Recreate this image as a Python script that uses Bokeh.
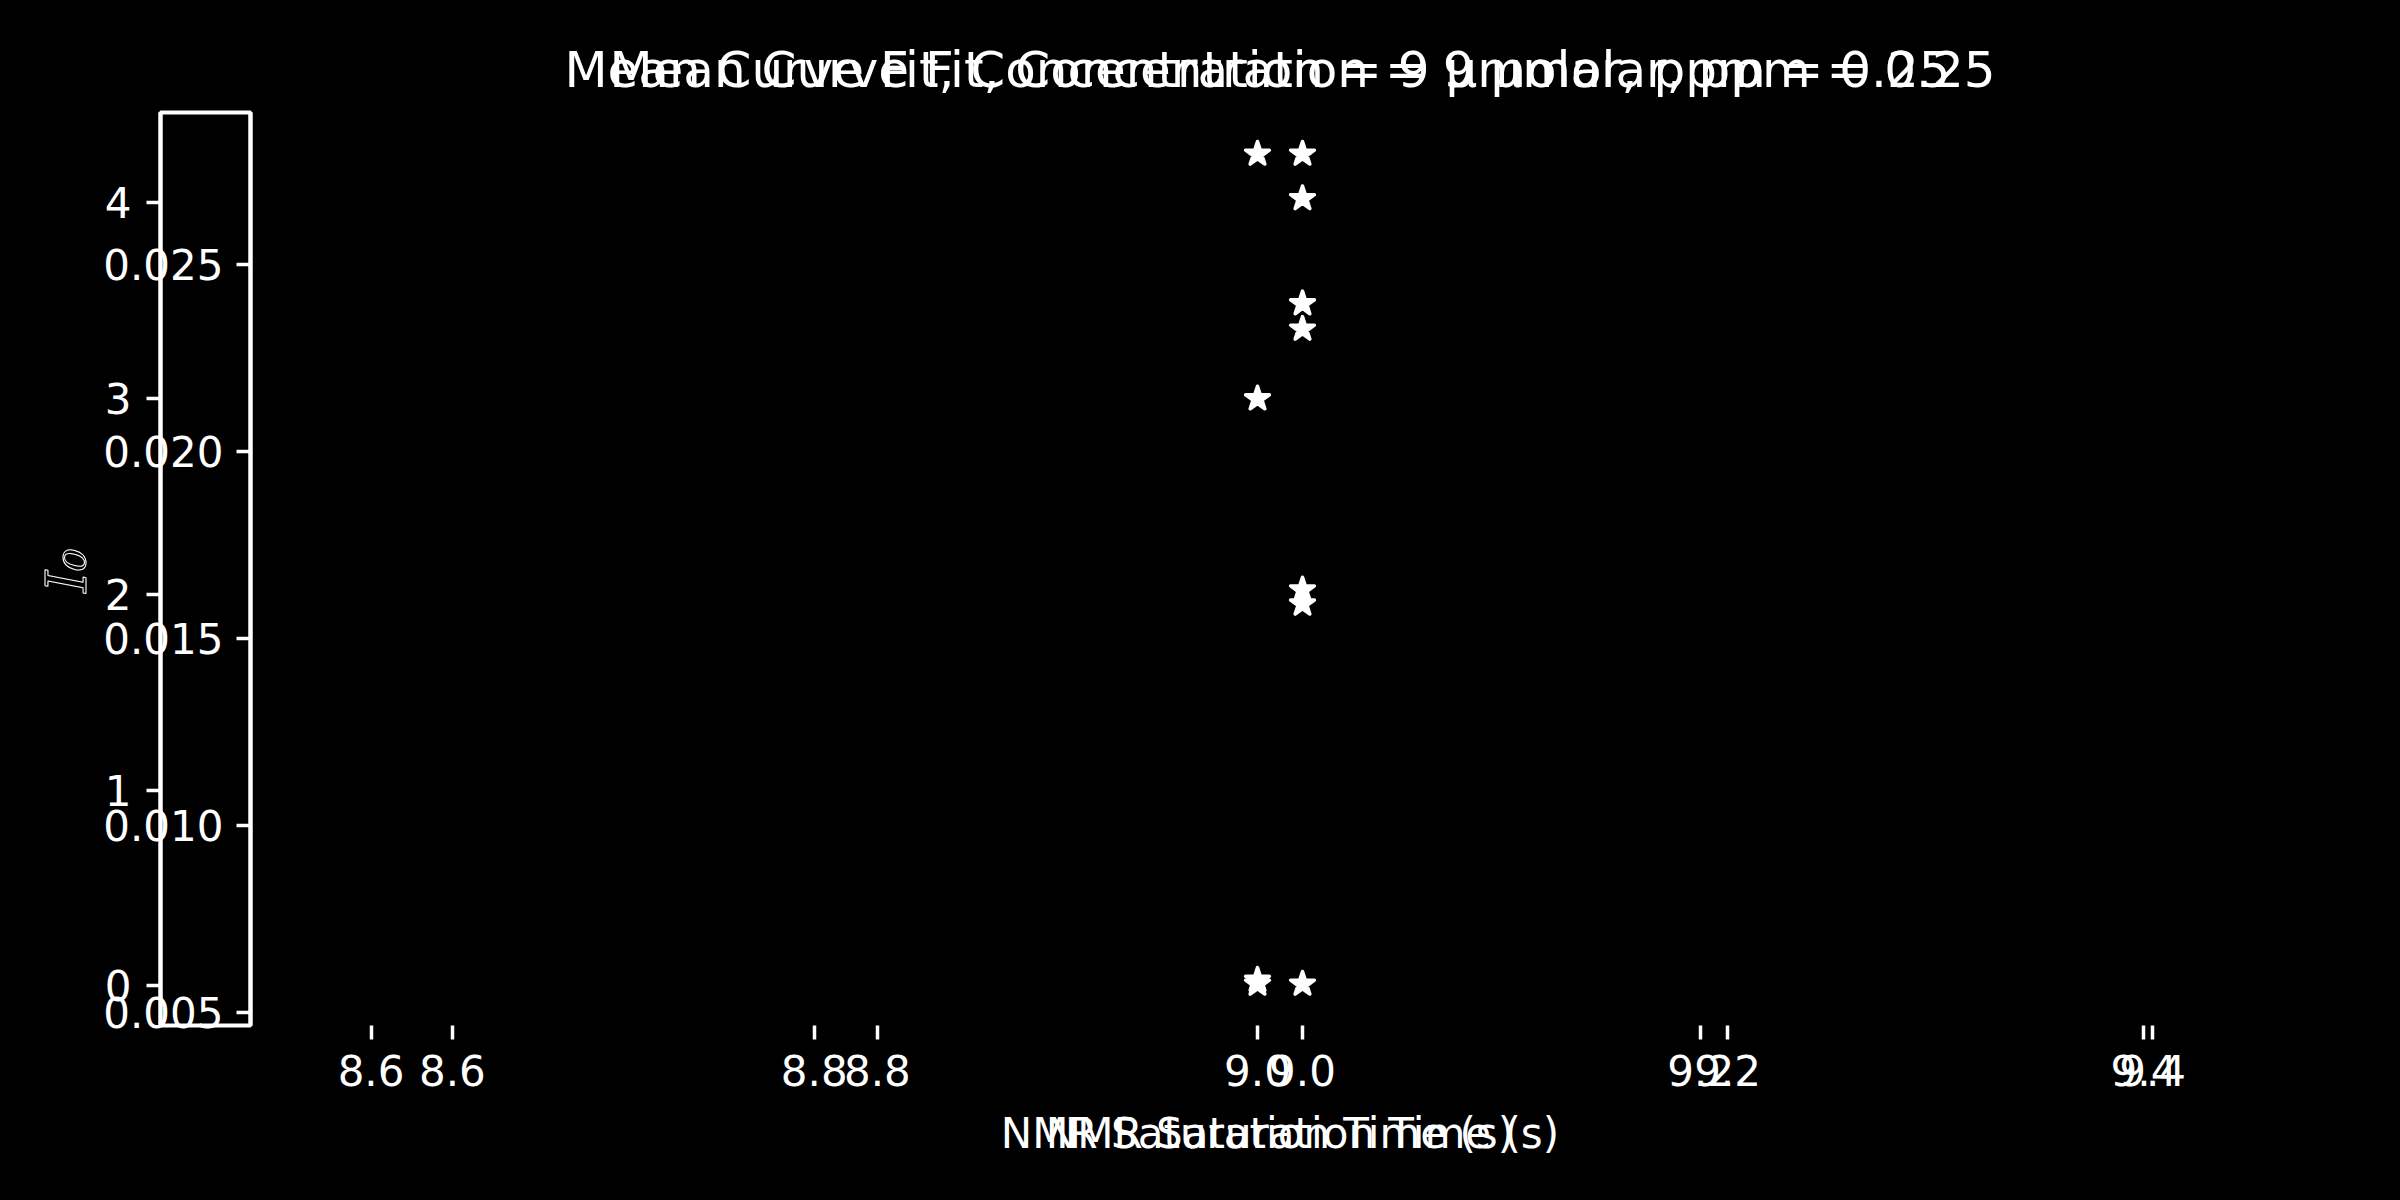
import math
from bokeh.plotting import figure
from bokeh.models import Range1d, LinearAxis, FixedTicker, PrintfTickFormatter, Label
from bokeh.embed import file_html
from bokeh.resources import INLINE

# ---------------- data ----------------
title_text = "Mean Curve Fit, Concentration = 9 µmolar, ppm = 0.25"
x_label = "NMR Saturation Time (s)"
y_label = "I₀"

time_a = [9.0, 9.0, 9.0, 9.0]
signal_a = [4.25, 3.00, 0.03, 0.01]

time_b = [9.0, 9.0, 9.0, 9.0, 9.0, 9.0, 9.0]
signal_b = [0.02796, 0.02677, 0.02396, 0.02328, 0.01631, 0.01593, 0.00577]

x_ticks = [8.6, 8.8, 9.0, 9.2, 9.4]
y_ticks_a = [0, 1, 2, 3, 4]
y_ticks_b = [0.005, 0.010, 0.015, 0.020, 0.025]

# ---------------- layout (canvas px) ----------------
W, H = 2400, 1200
LA, RA = 160, 2354      # panel A left / right
LB, RB = 250, 2354      # panel B left / right
TOP, BOT = 112, 1025    # both panels top / bottom

def auto_range(vals, margin=0.05, expander=0.05):
    lo, hi = min(vals), max(vals)
    if hi == lo:
        lo, hi = lo - expander * abs(lo), hi + expander * abs(hi)
    span = hi - lo
    return lo - margin * span, hi + margin * span

xa0, xa1 = auto_range(time_a)
ya0, ya1 = auto_range(signal_a)
xb0, xb1 = auto_range(time_b)
yb0, yb1 = auto_range(signal_b)

# the drawing frame covers the whole canvas; each panel's range is
# extended so that its own data box lands on its panel rectangle
ka = (RA - LA) / (xa1 - xa0)
kb = (RB - LB) / (xb1 - xb0)
kya = (BOT - TOP) / (ya1 - ya0)
kyb = (BOT - TOP) / (yb1 - yb0)

XA = Range1d(xa0 - LA / ka, xa1 + (W - RA) / ka)
XB = Range1d(xb0 - LB / kb, xb1 + (W - RB) / kb)
YA = Range1d(ya0 - (H - BOT) / kya, ya1 + TOP / kya)
YB = Range1d(yb0 - (H - BOT) / kyb, yb1 + TOP / kyb)

def px_to_xa(px):
    return XA.start + px / ka

def py_to_ya(py):
    return YA.end - py / kya

FONT = "DejaVu Sans"
WHITE = "white"

p = figure(width=W, height=H, output_backend="svg", toolbar_location=None,
           x_range=XA, y_range=YA, title=None,
           x_axis_location=None, y_axis_location=None,
           min_border=0, min_border_left=0, min_border_right=0,
           min_border_top=0, min_border_bottom=0,
           background_fill_color="black", border_fill_color="black",
           outline_line_color="black")
p.extra_x_ranges = {"xb": XB}
p.extra_y_ranges = {"yb": YB}
p.grid.visible = False
p.styles = {"background-color": "black"}

def make_axis(ticks, fmt, side, line, **kw):
    ax = LinearAxis(ticker=FixedTicker(ticks=ticks),
                    formatter=PrintfTickFormatter(format=fmt), **kw)
    ax.minor_tick_line_color = None
    ax.major_tick_in = 0
    ax.major_tick_out = 14
    ax.major_tick_line_color = WHITE
    ax.major_tick_line_width = 3.5
    ax.axis_line_color = WHITE if line else None
    ax.axis_line_width = 4
    ax.major_label_text_font = FONT
    ax.major_label_text_font_size = "42px"
    ax.major_label_text_color = WHITE
    p.add_layout(ax, side)
    return ax

# panel A axes
ax_xa = make_axis(x_ticks, "%.1f", "below", False, fixed_location=ya0, bounds=(xa0, xa1))
ax_xa.major_label_standoff = 15
ax_ya = make_axis(y_ticks_a, "%d", "left", True, fixed_location=xa0, bounds=(ya0, ya1))
ax_ya.major_label_standoff = 15

# panel B axes
ax_xb = make_axis(x_ticks, "%.1f", "below", False, fixed_location=yb0, bounds=(xb0, xb1),
                  x_range_name="xb", y_range_name="yb")
ax_xb.major_label_standoff = 15
ax_yb = make_axis(y_ticks_b, "%.3f", "left", True, fixed_location=xb0, bounds=(yb0, yb1),
                  x_range_name="xb", y_range_name="yb")
ax_yb.major_label_standoff = 13

# narrow box between the two panels' left edges
p.quad(left=xa0, right=px_to_xa(LB), bottom=ya0, top=ya1,
       fill_color=None, line_color=WHITE, line_width=4)

# markers
p.scatter(time_a, signal_a, marker="star", size=25, fill_color=WHITE,
          line_color=WHITE, line_width=3.5, line_join="round")
p.scatter(time_b, signal_b, marker="star", size=25, fill_color=WHITE,
          line_color=WHITE, line_width=3.5, line_join="round",
          x_range_name="xb", y_range_name="yb")

# titles and x labels of both panels (centred on each panel)
for rng, xc in (("default", (xa0 + xa1) / 2), ("xb", (xb0 + xb1) / 2)):
    p.add_layout(Label(x=xc, x_range_name=rng, y=py_to_ya(69),
                       text=title_text, text_align="center", text_baseline="middle",
                       text_font=FONT, text_font_size="50px", text_color=WHITE))
    p.add_layout(Label(x=xc, x_range_name=rng, y=py_to_ya(1133),
                       text=x_label, text_align="center", text_baseline="middle",
                       text_font=FONT, text_font_size="42px", text_color=WHITE))

# y label of panel A
p.add_layout(Label(x=px_to_xa(66), y=py_to_ya(570), angle=math.pi / 2,
                   text=y_label, text_align="center", text_baseline="middle",
                   text_font="DejaVu Serif", text_font_style="italic",
                   text_font_size="56px", text_color="black",
                   text_outline_color=WHITE))

open("out.html", "w").write(file_html(p, INLINE))
